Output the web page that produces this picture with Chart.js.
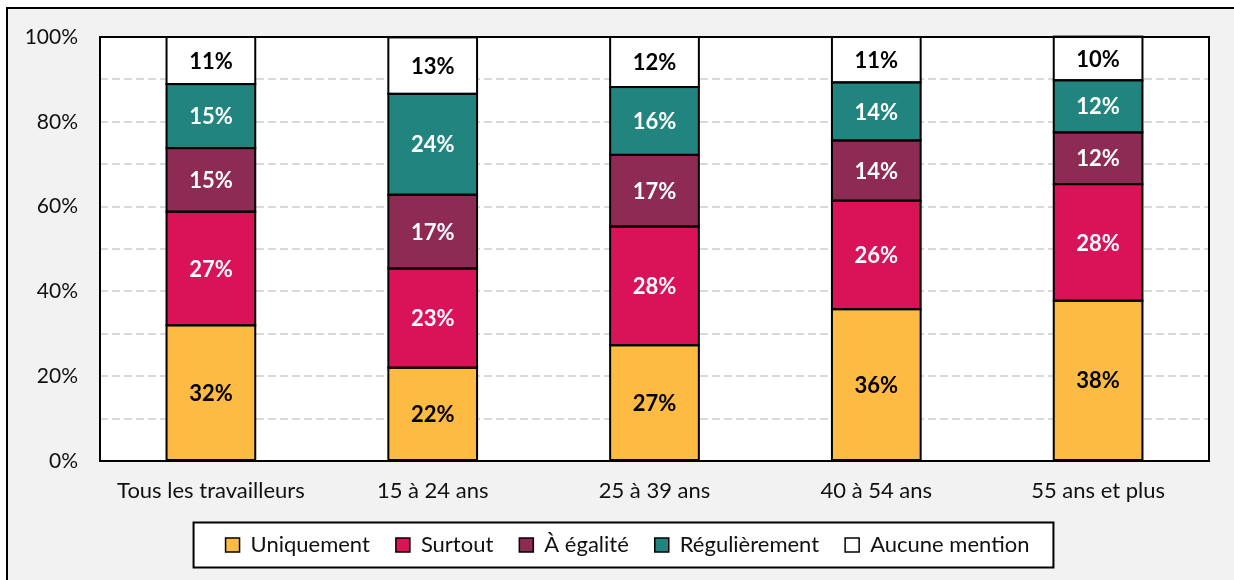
<!DOCTYPE html>
<html>
<head>
<meta charset="utf-8">
<script src="https://cdn.jsdelivr.net/npm/chart.js@4.4.1/dist/chart.umd.min.js"></script>
<style>
  html, body { margin:0; padding:0; background:#fff; }
  #frame { position:absolute; left:6px; top:7px; width:1226px; height:571px;
           background:#f2f2f2; border-left:2px solid #000; border-top:2px solid #000; }
  canvas { display:block; }
</style>
</head>
<body>
<div id="frame"><canvas id="c" width="1226" height="571"></canvas></div>
<script>
const categories = ["Tous les travailleurs", "15 à 24 ans", "25 à 39 ans", "40 à 54 ans", "55 ans et plus"];
const uniquement    = [32.0, 22.0, 27.3, 35.8, 37.8];
const surtout       = [26.8, 23.4, 28.0, 25.6, 27.5];
const aEgalite      = [15.0, 17.4, 16.9, 14.2, 12.2];
const regulierement = [15.1, 23.8, 16.0, 13.7, 12.3];
const aucune        = [11.1, 13.3, 11.8, 10.7, 10.3];
const yTicks = [0, 20, 40, 60, 80, 100];

const FONT = "Lato, 'Open Sans', sans-serif";

const series = [
  { label:"Uniquement",    data:uniquement,    color:"#fdbb44", text:"#000" },
  { label:"Surtout",       data:surtout,       color:"#da1257", text:"#fff" },
  { label:"À égalité",     data:aEgalite,      color:"#8d2b55", text:"#fff" },
  { label:"Régulièrement", data:regulierement, color:"#21847e", text:"#fff" },
  { label:"Aucune mention",data:aucune,        color:"#ffffff", text:"#000" }
];

function legendBox(chart){
  const hb = chart.legend.legendHitBoxes;
  if (!hb || !hb.length) return null;
  const last = hb[hb.length-1];
  const l = hb[0].left - 32, r = last.left + last.width + 24;
  const cy = hb[0].top + hb[0].height/2;
  return { x:l, y:cy - 22.5, w:r - l, h:45 };
}

const LEGEND_SHIFT = 19;

// white plot background, bar outlines, value labels, frames
const plotBox = {
  id:"plotBox",
  afterLayout(chart){
    const lg = chart.legend;
    lg.left += LEGEND_SHIFT; lg.right += LEGEND_SHIFT;
    (lg.legendHitBoxes || []).forEach(h => { h.left += LEGEND_SHIFT; });
  },
  beforeDraw(chart){
    const {ctx, chartArea:a} = chart;
    ctx.save(); ctx.fillStyle="#fff";
    ctx.fillRect(a.left, a.top, a.right-a.left, a.bottom-a.top);
    const b = legendBox(chart);
    if (b) ctx.fillRect(b.x, b.y, b.w, b.h);
    ctx.restore();
  },
  afterDatasetsDraw(chart){
    const ctx = chart.ctx;
    ctx.save();
    ctx.strokeStyle="#000"; ctx.lineWidth=2;
    chart.data.datasets.forEach((ds, i) => {
      const meta = chart.getDatasetMeta(i);
      meta.data.forEach((bar, j) => {
        const w = bar.width;
        ctx.strokeRect(bar.x - w/2, bar.y, w, bar.base - bar.y);
        ctx.fillStyle = series[i].text;
        ctx.font = "bold 22px " + FONT;
        ctx.textAlign = "center"; ctx.textBaseline = "middle";
        ctx.fillText(Math.round(ds.data[j]) + "%", bar.x, (bar.y + bar.base)/2 + 1);
      });
    });
    const a = chart.chartArea;
    ctx.strokeRect(a.left, a.top, a.right-a.left, a.bottom-a.top);
    const b = legendBox(chart);
    if (b) ctx.strokeRect(b.x, b.y, b.w, b.h);
    ctx.restore();
  }
};

new Chart(document.getElementById("c"), {
  type:"bar",
  data:{
    labels: categories,
    datasets: series.map(s => ({
      label: s.label, data: s.data, backgroundColor: s.color, borderWidth: 0,
      barPercentage: 0.4, categoryPercentage: 1
    }))
  },
  options:{
    responsive:false, animation:false,
    layout:{ padding:{ top:28, right:25, left:0, bottom:14 } },
    plugins:{
      tooltip:{ enabled:false },
      legend:{
        position:"bottom",
        labels:{
          font:{ family:FONT, size:22 }, color:"#111",
          boxWidth:14, boxHeight:14, padding:26,
          generateLabels(chart){
            return chart.data.datasets.map((ds, i) => ({
              text: ds.label, fillStyle: ds.backgroundColor, strokeStyle:"#000",
              lineWidth: 1.5, hidden:false, datasetIndex:i, fontColor:"#111"
            }));
          }
        }
      }
    },
    scales:{
      x:{
        stacked:true,
        afterFit(scale){ scale.height = 47; },
        grid:{ display:false, drawTicks:false },
        border:{ display:false },
        ticks:{ font:{ family:FONT, size:22 }, color:"#111", padding:17, maxRotation:0 }
      },
      y:{
        stacked:true, min:0, max:100,
        afterFit(scale){ scale.width = 92; scale.paddingTop = 12; scale.paddingBottom = 12; },
        afterBuildTicks(scale){ scale.ticks = [0,10,20,30,40,50,60,70,80,90,100].map(v => ({ value:v })); },
        grid:{ color:"#d9d9d9", lineWidth:2, drawTicks:false },
        border:{ display:false, dash:[8,4] },
        ticks:{
          font:{ family:FONT, size:21 }, color:"#111", padding:22,
          callback: v => yTicks.includes(v) ? v + "%" : ""
        }
      }
    }
  },
  plugins:[plotBox]
});
</script>
</body>
</html>
